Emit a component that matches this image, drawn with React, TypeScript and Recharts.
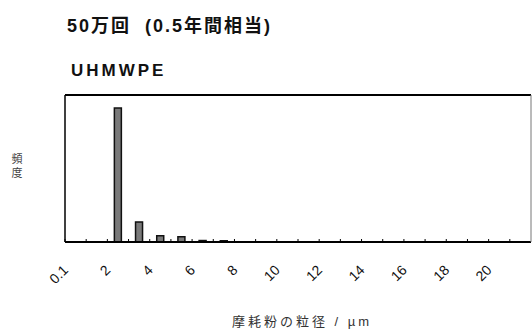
import React from 'react';
import { BarChart, Bar, XAxis, YAxis } from 'recharts';

// bin centres (µm) and relative frequency
const binMid = [0.5, 1.5, 2.5, 3.5, 4.5, 5.5, 6.5, 7.5];
const freq = [0, 0, 54.7, 8.2, 2.6, 2.1, 0.6, 0.5];

const xTickValues = [0, 1, 2, 3, 4, 5, 6, 7, 8, 9, 10, 11, 12, 13, 14, 15, 16, 17, 18, 19, 20, 21];
const xTickLabels = ['0.1', '2', '4', '6', '8', '10', '12', '14', '16', '18', '20'];
const yTickValues = [0, 10, 20, 30, 40, 50, 60];

const TITLE = '50万回  (0.5年間相当)';
const SUBTITLE = 'UHMWPE';
const X_LABEL = '摩耗粉の粒径 / µm';
const Y_LABEL = ['頻', '度'];

const data = binMid.map((x, i) => ({ x, freq: freq[i] }));

const FONT = '"Liberation Sans", Arial, "Noto Sans CJK JP", sans-serif';

const XTick = ({ x, y, payload }: any) => {
  const v = payload.value;
  if (v % 2 !== 0) return null;
  const label = xTickLabels[v / 2];
  return (
    <g transform={`translate(${x - 3},${y + 25})`}>
      <text
        textAnchor="end"
        transform="rotate(-45)"
        fontSize={14}
        fill="#111"
        fontFamily={FONT}
        dy="0.7em"
      >
        {label}
      </text>
    </g>
  );
};

const YLabel = ({ viewBox }: any) => {
  const cy = viewBox.y + viewBox.height / 2;
  return (
    <text x={17} y={cy - 6} textAnchor="middle" fontSize={11} fill="#444" fontFamily={FONT}>
      <tspan x={17} dy="0">{Y_LABEL[0]}</tspan>
      <tspan x={17} dy="1.3em">{Y_LABEL[1]}</tspan>
    </text>
  );
};

export default function App() {
  return (
    <div style={{ position: 'absolute', left: 0, top: 0, width: 532, height: 332, background: '#fff' }}>
      <div
        style={{
          position: 'absolute',
          left: 67,
          top: 11,
          fontFamily: FONT,
          fontWeight: 'bold',
          fontSize: 18,
          letterSpacing: 2,
          color: '#111',
          whiteSpace: 'pre',
        }}
      >
        {TITLE}
      </div>
      <div
        style={{
          position: 'absolute',
          left: 71,
          top: 61,
          fontFamily: FONT,
          fontWeight: 'bold',
          fontSize: 17,
          letterSpacing: 3,
          color: '#111',
        }}
      >
        {SUBTITLE}
      </div>
      <BarChart
        width={532}
        height={332}
        data={data}
        margin={{ top: 94, right: 0, bottom: 60, left: 64 }}
        style={{ position: 'absolute', left: 0, top: 0 }}
      >
        <XAxis
          dataKey="x"
          type="number"
          domain={[0, 22]}
          ticks={xTickValues}
          interval={0}
          tick={<XTick />}
          tickSize={-3}
          tickMargin={0}
          height={30}
          axisLine={{ stroke: '#000', strokeWidth: 2 }}
          tickLine={{ stroke: '#000' }}
        />
        <XAxis
          xAxisId="top"
          orientation="top"
          dataKey="x"
          type="number"
          domain={[0, 22]}
          tick={false}
          tickLine={false}
          height={1}
          axisLine={{ stroke: '#000', strokeWidth: 2 }}
        />
        <YAxis
          domain={[0, 60]}
          ticks={yTickValues}
          tick={false}
          tickSize={-3}
          width={1}
          axisLine={{ stroke: '#000', strokeWidth: 1.5 }}
          tickLine={{ stroke: '#000' }}
          label={<YLabel />}
        />
        <YAxis
          yAxisId="right"
          orientation="right"
          tick={false}
          tickLine={false}
          width={1}
          axisLine={{ stroke: '#777', strokeWidth: 1 }}
        />
        <Bar dataKey="freq" barSize={7} fill="#7a7a7a" stroke="#111" strokeWidth={1.5} isAnimationActive={false} />
      </BarChart>
      <div
        style={{
          position: 'absolute',
          left: 232,
          top: 311,
          fontFamily: FONT,
          fontSize: 13,
          letterSpacing: 3,
          color: '#333',
          whiteSpace: 'pre',
        }}
      >
        {X_LABEL}
      </div>
    </div>
  );
}
